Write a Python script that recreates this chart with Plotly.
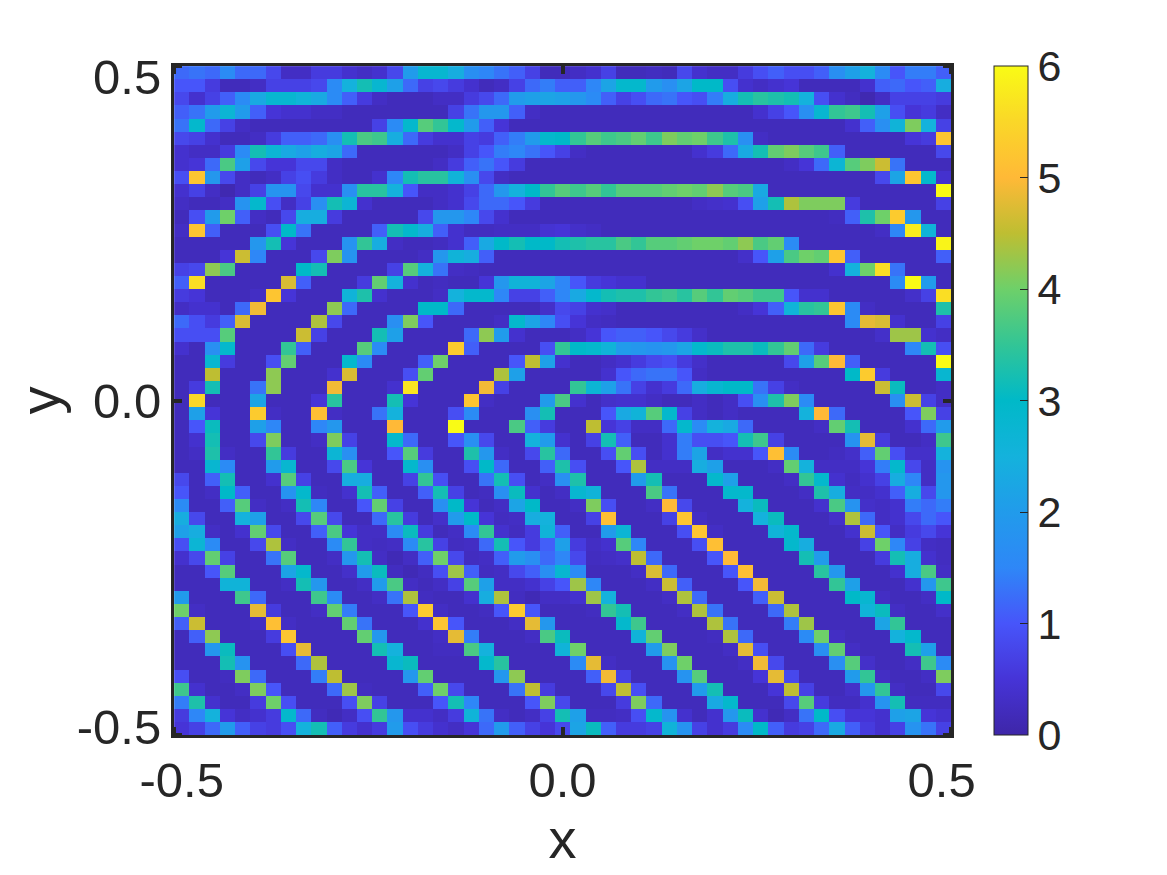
import plotly.graph_objects as go

# cell values, top row first, left to right
r00 = [1.2,1.3,1.2,1.6,1.2,1.2,.8,.3,.3,.6,.6,.4,.3,.4,.8,2.0,2.8, 2.8,2.4,1.7,1.5,1.3,1.1,.7,.2,.2,.3,.4,.7,.2,.2,.25,.2,.8, .4,.3,.3,.6,.9,1.1,.9,.9,1.1,1.7,2.1,2.5,1.6,1.0,1.4,1.4,1.1]
r01 = [1.0,1.0,.6,.2,.2,.3,.7,.7,.7,.8,1.6,2.5,3.2,2.8,2.1,1.2,.7, .8,.6,.4,.2,.3,.7,1.2,1.4,1.1,1.1,1.5,2.2,2.9,2.9,2.0,1.7,2.2, 3.0,3.0,.9,.4,.3,.4,.5,.2,.2,.2,.2,.4,1.1,1.2,1.0,1.1,2.4]
r02 = [.8,.4,.7,1.1,1.6,2.3,2.8,2.8,2.6,2.3,1.6,1.1,.6,.3,.2,.2,.2, .3,.3,.6,.8,1.2,2.0,2.1,2.2,2.1,1.9,1.6,1.1,.7,.9,1.2,1.3,1.0, .9,1.4,2.4,3.2,3.4,3.3,3.2,2.5,.9,.4,.25,.1,.3,.7,.7,.7,.6]
r03 = [1.1,1.3,2.0,2.7,2.0,1.1,.5,.4,.4,.3,.3,.2,.2,.2,.2,.2,.2, .2,.7,1.3,1.9,1.9,1.1,.3,.2,.2,.2,.2,.2,.2,.2,.2,.2,.2, .2,.2,.2,.2,.4,.7,1.0,1.7,2.8,3.5,3.6,3.2,2.1,.9,.5,.6,.3]
r04 = [1.3,2.9,1.2,.7,.3,.2,.2,.2,.2,.2,.2,.2,.2,.7,1.6,2.9,3.8, 3.5,2.9,2.0,1.1,.5,.2,.2,.2,.2,.2,.2,.2,.2,.2,.2,.2,.2, .2,.2,.2,.2,.2,.2,.2,.2,.2,.2,.4,1.1,1.7,2.6,4.1,2.5,.7]
r05 = [.8,.7,.4,.2,.2,.3,.6,1.1,1.1,1.2,1.7,3.2,3.7,3.6,2.4,1.2,.6, .4,.4,.7,.6,1.1,1.4,2.0,2.9,3.0,3.5,3.8,3.6,3.7,3.9,3.6,4.1,3.9, 4.0,3.6,3.3,1.7,.3,.2,.2,.2,.2,.2,.2,.2,.2,.2,.5,.6,5.2]
r06 = [.4,.3,.3,.6,1.6,3.2,2.7,2.3,2.1,2.4,2.2,1.2,.2,.2,.2,.2,.2, .2,.3,.7,1.0,1.4,1.5,1.3,1.0,.7,.3,.2,.2,.2,.2,.2,.2,.2, .4,.6,1.2,2.3,3.2,3.9,4.1,3.8,3.6,1.1,.2,.2,.2,.2,.2,.2,.8]
r07 = [.4,.5,1.2,3.7,2.1,.8,.5,.5,.8,.8,.3,.2,.2,.2,.2,.2,.2, .3,.6,1.1,1.3,1.0,.6,.2,.2,.2,.2,.2,.2,.2,.2,.2,.2,.2, .2,.2,.2,.2,.2,.2,.3,.5,1.2,2.7,3.8,4.1,4.6,1.3,.2,.2,.2]
r08 = [.9,5.2,1.9,.8,.3,.2,.3,.7,.9,.6,.3,.2,.2,.4,1.5,3.2,3.4, 3.4,2.6,1.7,.8,.3,.2,.2,.2,.2,.2,.2,.2,.2,.2,.2,.2,.2, .2,.2,.2,.2,.2,.2,.2,.2,.2,.2,.2,.2,.8,2.2,5.2,2.9,.4]
r09 = [.4,.7,.3,.1,.3,.7,1.8,1.8,.8,.4,.4,1.7,3.4,3.4,2.5,1.0,.3, .3,.4,.7,1.2,1.9,2.5,3.0,3.5,3.8,3.6,3.8,3.5,3.8,3.8,3.8,3.9,4.0, 3.9,4.2,3.8,3.7,2.3,.2,.2,.2,.2,.2,.2,.2,.2,.2,.2,.2,6.0]
r10 = [.3,.2,.2,.3,1.8,2.9,.9,.3,.7,1.7,3.2,2.7,.4,.2,.2,.2,.2, .3,.4,.8,1.2,1.2,1.0,.6,.2,.2,.2,.2,.2,.2,.2,.2,.2,.2, .3,.35,.4,.9,2.1,3.2,4.4,4.1,4.1,4.1,.6,.2,.2,.2,.2,.2,.7]
r11 = [.2,.9,2.0,4.0,1.1,.3,.2,.8,2.4,2.4,.6,.2,.2,.2,.2,.2,.8, 1.9,1.9,1.5,.8,.4,.2,.2,.2,.2,.2,.2,.2,.2,.2,.2,.2,.2, .2,.2,.2,.2,.2,.2,.2,.2,.2,.25,1.1,3.3,4.0,5.3,1.9,.2,.2]
r12 = [.3,5.2,1.1,.2,.2,.2,.9,3.0,1.3,.2,.2,.2,.2,1.1,3.2,2.9,2.4, 1.1,.4,.25,.25,.3,.3,.3,.45,.5,.35,.3,.2,.2,.2,.2,.2,.2, .2,.2,.2,.2,.2,.2,.2,.2,.2,.2,.2,.2,.3,1.5,5.8,2.6,.2]
r13 = [.2,.2,.2,.2,.2,1.9,3.2,.5,.2,.2,.2,1.8,3.5,2.4,.3,.2,.2, .25,.4,1.1,2.3,3.0,3.2,3.0,3.0,3.2,3.3,3.4,3.4,3.7,3.5,3.8,3.8,3.9, 4.0,4.0,3.9,4.2,3.7,3.9,1.6,.2,.2,.2,.2,.2,.2,.2,.2,.2,5.9]
r14 = [.2,.2,.2,.5,4.6,1.5,.2,.2,.2,.8,4.1,1.8,.2,.2,.2,.2,.3, 1.9,2.6,2.4,1.1,.2,.2,.2,.2,.2,.2,.2,.2,.2,.2,.2,.2,.2, .2,.2,.2,.35,1.0,2.1,3.7,4.0,3.9,5.2,1.1,.2,.2,.2,.2,.2,1.1]
r15 = [.7,.8,4.2,3.7,.2,.2,.2,.2,3.0,3.2,.2,.2,.2,.2,.7,3.8,2.5, 1.3,.3,.25,.2,.2,.2,.2,.2,.2,.2,.2,.2,.2,.2,.2,.2,.2, .2,.2,.2,.2,.2,.2,.2,.2,.2,.4,2.5,4.0,5.6,1.3,.2,.2,.2]
r16 = [1.1,5.6,.2,.2,.2,.2,.2,4.7,1.1,.2,.2,.2,.6,3.9,2.5,.4,.2, .25,.2,.2,.5,1.9,2.6,2.6,2.2,1.5,1.0,.6,.5,.4,.4,.2,.2,.2, .2,.2,.2,.2,.2,.2,.2,.2,.2,.2,.2,.2,.2,1.6,6.0,2.0,.2]
r17 = [.6,.5,.2,.2,.2,.3,5.2,.5,.2,.2,.2,2.6,3.3,.4,.2,.2,.2, .3,2.5,2.9,2.9,1.5,.7,.7,1.1,1.5,2.3,2.9,3.2,3.3,3.3,3.5,3.6,3.4, 3.8,3.5,3.9,3.8,3.6,3.6,1.0,.4,.4,.2,.2,.2,.2,.2,.35,.7,5.6]
r18 = [.3,.4,.4,.2,1.2,4.9,.2,.2,.2,.2,4.2,1.2,.2,.2,.2,.2,3.0, 3.0,1.2,.2,.2,.2,.2,.2,.35,.8,.7,.4,.35,.2,.2,.2,.2,.2, .2,.2,.2,.3,.5,1.1,2.6,3.4,3.5,5.2,1.6,.3,.2,.2,.2,.2,3.3]
r19 = [1.2,.9,.6,1.1,4.7,.2,.2,.2,.2,4.4,.8,.2,.2,.2,1.7,4.1,1.0, .2,.2,.2,.2,.3,2.9,2.2,1.5,.9,.5,.3,.25,.2,.2,.2,.2,.2, .2,.2,.2,.2,.2,.2,.2,.2,.2,.2,1.6,4.8,4.7,.4,.2,.2,.7]
r20 = [.9,.9,.9,3.8,.2,.2,.2,.2,4.6,.7,.2,.2,.2,3.2,2.1,.2,.2, .2,.2,1.2,4.2,2.0,.4,.2,.2,.2,.3,.5,1.0,1.1,1.1,1.0,.8,.6, .35,.2,.2,.2,.2,.2,.2,.2,.2,.2,.2,.2,.35,4.3,4.3,.4,.3]
r21 = [.4,.2,1.7,2.9,.2,.2,.2,3.5,1.1,.2,.2,.2,3.8,1.6,.2,.2,.2, .2,5.3,1.1,.2,.2,.2,.2,.9,3.5,3.0,2.9,2.6,2.0,1.9,1.8,1.9,2.2, 2.9,3.1,3.3,3.3,3.1,3.5,3.9,1.2,.6,.2,.2,.2,.2,.2,1.5,3.2,.9]
r22 = [.2,.2,2.8,.6,.2,.2,.9,3.9,.2,.2,.2,2.9,1.6,.2,.2,.2,1.1, 4.0,.2,.2,.2,.2,1.0,4.5,2.1,.4,.2,.2,.3,.4,.6,.8,.9,.6, .35,.2,.2,.2,.2,.2,.8,2.1,3.8,5.0,1.1,.2,.2,.2,.2,.2,6.0]
r23 = [.2,.2,4.5,.2,.2,.2,4.2,.2,.2,.2,.4,4.7,.2,.2,.2,.9,3.9, .2,.2,.2,.2,4.4,2.1,.2,.2,.2,.2,.2,.4,1.0,1.2,1.3,1.3,1.0, .3,.2,.2,.2,.2,.2,.2,.2,.2,.2,3.0,5.3,.6,.2,.2,.2,2.8]
r24 = [.2,.6,3.2,.2,.2,1.3,4.2,.2,.2,.2,4.9,.2,.2,.2,.4,5.7,.2, .2,.2,.2,4.9,.7,.2,.2,.2,.2,3.5,2.7,2.1,1.3,.7,.4,.6,1.2, 2.4,2.8,3.0,3.0,1.3,.7,.3,.2,.2,.2,.2,.2,4.6,3.1,.2,.2,.3]
r25 = [.2,5.5,.2,.2,.2,2.2,.2,.2,.2,.5,3.4,.2,.2,.2,3.2,.5,.2, .2,.2,5.2,.3,.2,.2,.2,2.0,3.7,.4,.2,.35,.4,.4,.3,.2,.2, .3,.2,.3,.9,1.7,3.3,4.1,1.6,.2,.2,.2,.2,.2,1.7,4.6,.7,.3]
r26 = [.2,2.1,.5,.2,.2,5.3,.3,.2,.2,5.1,.3,.2,.2,1.3,2.5,.2,.2, .2,.9,1.6,.2,.2,.2,1.7,3.2,.2,.2,.2,1.0,2.3,2.6,3.8,2.9,.7, .3,.2,.3,.2,.2,.2,.2,2.5,5.0,1.2,.2,.2,.2,.2,1.0,4.1,.7]
r27 = [.2,1.0,3.1,.2,.2,2.1,1.5,.2,.2,1.5,1.9,.2,.2,.2,5.0,.2,.2, .2,6.0,.2,.2,.2,3.7,1.1,.6,.2,.2,4.5,.5,.7,.3,.3,1.2,2.9, 1.6,2.5,2.3,1.2,.2,.2,.2,.2,.3,3.9,3.2,.2,.2,.2,.4,1.2,2.0]
r28 = [.2,.4,3.2,.2,.2,.8,4.1,.2,.2,.3,4.1,.7,.2,.2,2.9,1.2,.2, .2,1.0,1.7,.8,.2,.2,2.5,2.0,.4,.2,.7,3.2,1.1,.2,.2,.4,1.4, .9,.9,1.0,3.2,3.6,.7,.2,.2,.2,.2,1.8,4.8,.6,.2,.2,.3,3.6]
r29 = [.2,.3,3.3,.3,.2,.2,3.5,.6,.2,.2,2.7,1.7,.2,.2,1.0,3.8,.6, .2,.2,3.3,1.9,.3,.2,.8,3.4,1.2,.2,.2,.9,3.9,.9,.2,.4,1.4, 2.2,.3,.4,.4,1.0,5.1,1.6,.2,.2,.25,.35,1.1,3.9,.9,.35,.35,2.5]
r30 = [.2,.2,2.8,1.6,.2,.2,2.0,2.8,.2,.2,.8,3.7,.5,.2,.2,2.9,1.7, .2,.2,.9,3.0,1.2,.2,.2,1.1,3.3,.9,.2,.2,1.0,4.4,.3,.3,.3, 2.4,2.1,.2,.2,.2,.3,3.9,2.5,.3,.3,.3,.5,1.4,2.9,.8,.3,1.8]
r31 = [.8,.2,1.1,3.2,.2,.2,.4,3.8,.7,.2,.2,2.4,2.4,.2,.2,.7,3.5, .9,.2,.2,1.3,3.2,.9,.2,.3,1.7,3.3,.2,.2,.2,2.0,3.2,.2,.2, .2,2.9,2.1,.2,.2,.2,.3,3.5,2.9,.4,.25,.4,.7,2.4,1.5,.3,1.9]
r32 = [1.0,.2,.3,3.0,1.1,.2,.2,1.8,2.9,.25,.2,.4,3.2,1.1,.2,.2,1.1, 3.2,.7,.2,.25,1.7,3.1,.4,.2,.3,2.8,2.6,.2,.2,.2,3.7,1.3,.2, .2,.2,2.9,2.9,.2,.2,.2,.3,3.3,2.4,.3,.3,.4,1.1,2.4,.8,1.9]
r33 = [1.6,.2,.2,1.1,3.8,.3,.2,.3,3.2,1.5,.2,.2,1.0,3.9,.7,.2,.2, 1.7,3.0,.5,.2,.3,2.2,3.0,.2,.2,.3,4.1,.9,.2,.2,.3,5.0,.8, .2,.2,.2,2.5,3.1,.2,.2,.2,.4,3.7,1.8,.35,.3,.4,1.4,1.2,1.4]
r34 = [2.4,.8,.2,.2,2.5,2.1,.2,.2,.8,3.8,.8,.2,.2,1.2,3.4,.6,.2, .35,2.0,3.0,.5,.25,.3,2.4,2.5,.2,.2,.7,5.1,.2,.2,.2,.7,5.2, .3,.2,.2,.2,2.5,3.1,.2,.2,.2,.35,4.4,1.2,.3,.4,.8,1.2,1.0]
r35 = [2.1,2.4,.3,.2,.4,3.9,.8,.2,.2,1.1,3.7,.5,.3,.3,1.6,3.1,.6, .2,.3,1.6,3.5,.4,.25,.6,2.6,1.1,.2,.2,2.0,2.7,.2,.2,.2,.9, 5.2,.3,.2,.2,.2,2.6,2.9,.2,.2,.2,.4,4.6,1.0,.3,.6,.8,.5]
r36 = [.9,2.7,1.6,.2,.2,.8,4.4,.3,.2,.2,1.6,3.5,.3,.25,.3,1.6,3.4, .7,.25,.3,1.2,3.2,1.0,.6,1.1,2.1,.6,.3,.4,3.8,1.5,.2,.2,.2, .9,5.1,.2,.2,.2,.2,2.9,2.4,.2,.2,.2,.7,4.0,1.5,.7,.3,.25]
r37 = [.4,.8,3.9,.7,.2,.2,1.3,3.8,.2,.2,.3,1.9,3.2,.3,.15,.3,1.1, 4.0,.8,.25,.3,1.1,2.0,1.7,1.2,1.5,.8,.25,.3,.35,4.5,1.2,.2,.2, .2,1.0,5.0,.2,.2,.2,.2,3.2,2.0,.2,.2,.2,.6,3.2,2.4,.4,.25]
r38 = [.2,.2,1.0,3.8,.2,.2,.2,2.2,2.9,.2,.2,.35,2.0,3.1,.25,.15,.25, .9,4.3,1.1,.25,.3,.8,1.1,1.7,2.8,1.6,.2,.2,.2,.3,4.7,1.2,.2, .2,.2,1.0,5.1,.2,.2,.2,.2,3.4,1.9,.2,.2,.2,.4,2.4,3.7,.3]
r39 = [.2,.2,.2,2.6,2.6,.2,.2,.3,3.2,1.9,.2,.2,.3,2.0,3.7,.3,.2, .3,.7,3.8,2.1,.3,.3,.4,.7,1.0,4.3,1.5,.2,.2,.2,.3,4.6,1.1, .2,.2,.2,1.0,4.9,.2,.2,.2,.2,3.5,2.1,.2,.2,.2,.4,1.9,3.6]
r40 = [2.0,.2,.2,.2,3.6,1.2,.2,.2,.2,3.6,1.6,.2,.2,.3,1.3,4.4,.25, .2,.2,.4,2.4,4.4,.25,.15,.3,.3,.4,4.3,2.5,.2,.2,.2,.3,4.4, 1.2,.2,.2,.2,1.1,4.6,.2,.2,.2,.2,3.0,2.8,.3,.2,.2,.3,3.0]
r41 = [4.0,.3,.2,.2,.2,4.8,.6,.2,.2,.3,3.9,1.4,.2,.2,.2,1.0,5.3, .3,.2,.2,.25,1.0,5.3,1.0,.2,.2,.2,.25,3.5,3.2,.2,.2,.2,.3, 4.4,1.3,.2,.2,.2,1.2,4.4,.2,.2,.2,.2,2.6,3.1,.3,.2,.2,.35]
r42 = [1.1,4.6,.2,.2,.2,.3,5.1,.3,.2,.2,.2,3.9,1.3,.2,.2,.2,.4, 5.2,1.0,.2,.2,.2,.3,4.8,1.9,.2,.2,.2,.2,2.9,3.6,.2,.2,.2, .2,4.4,1.3,.2,.2,.2,1.4,4.3,.2,.2,.2,.2,2.2,3.5,.2,.2,.2]
r43 = [.2,1.1,4.2,.2,.2,.2,.6,5.2,.2,.2,.2,.2,3.9,1.9,.2,.2,.2, .3,4.8,1.4,.2,.2,.2,.3,3.7,3.1,.2,.2,.2,.2,2.6,3.9,.2,.2, .2,.25,4.4,1.2,.2,.2,.2,1.6,4.0,.3,.2,.2,.2,2.5,2.9,.2,.2]
r44 = [.2,.2,1.9,3.1,.2,.2,.2,.9,4.8,.2,.2,.2,.2,3.2,2.5,.2,.2, .25,.25,3.7,2.5,.2,.2,.2,.2,2.6,4.0,.2,.2,.2,.2,2.0,4.1,.2, .2,.2,.3,4.8,.9,.2,.2,.2,1.7,3.9,.3,.2,.2,.2,3.2,2.1,.2]
r45 = [.2,.2,.2,3.2,1.8,.2,.2,.2,1.2,4.4,.2,.2,.2,.2,2.8,3.1,.2, .2,.2,.2,2.9,3.4,.2,.2,.2,.2,1.6,4.8,.3,.2,.2,.2,1.8,4.0, .2,.2,.2,.3,4.9,.8,.2,.2,.2,1.7,3.8,.35,.2,.2,.3,3.6,1.6]
r46 = [.9,.2,.2,.25,4.1,1.2,.2,.2,.2,1.4,4.5,.2,.2,.2,.2,1.9,3.9, .2,.2,.2,.2,1.9,4.2,.2,.2,.2,.2,1.1,4.9,.7,.2,.2,.2,1.8, 3.8,.2,.2,.2,.5,4.8,.8,.2,.2,.2,2.0,3.5,.3,.2,.2,.3,4.1]
r47 = [3.6,.4,.2,.2,.3,4.1,1.0,.2,.2,.2,1.2,4.3,.25,.2,.2,.2,1.1, 4.0,.8,.2,.2,.2,1.3,4.5,.6,.2,.2,.2,.8,4.5,.9,.2,.2,.2, 2.0,3.2,.2,.2,.2,.5,4.5,.7,.2,.2,.35,1.9,3.5,.3,.2,.2,.8]
r48 = [1.4,3.3,.4,.2,.2,.6,4.0,.9,.2,.2,.2,.9,4.1,.7,.2,.2,.2, 1.0,3.2,1.5,.2,.2,.2,1.0,4.1,.8,.2,.2,.2,.6,4.1,1.2,.2,.2, .2,2.3,2.9,.2,.2,.2,.8,3.8,.6,.25,.25,.4,1.8,3.2,.25,.25,.25]
r49 = [.6,1.5,2.5,.5,.3,.4,.6,2.9,1.2,.25,.15,.3,.9,3.5,1.9,.4,.4, .3,.6,2.6,1.3,.3,.2,.3,.7,3.2,2.1,.25,.25,.3,.9,2.9,1.8,.4, .2,.4,1.9,3.1,.4,.15,.3,1.3,3.0,.9,.5,.5,.4,2.1,2.2,.5,.4]
r50 = [.5,.7,1.2,2.0,1.1,.7,.6,.9,2.5,3.2,1.1,.6,.4,.6,2.0,.9,.6, .4,.3,.5,1.2,2.0,1.1,.7,.5,.8,2.2,3.1,1.1,.6,.6,.7,2.6,1.8, .7,.4,.6,1.6,3.0,1.1,.6,.7,1.2,2.3,1.1,.6,.4,.7,1.8,1.3,.7]

z = [r00, r01, r02, r03, r04, r05, r06, r07, r08, r09,
     r10, r11, r12, r13, r14, r15, r16, r17, r18, r19,
     r20, r21, r22, r23, r24, r25, r26, r27, r28, r29,
     r30, r31, r32, r33, r34, r35, r36, r37, r38, r39,
     r40, r41, r42, r43, r44, r45, r46, r47, r48, r49, r50]

for i, r in enumerate(z):
    assert len(r) == 51, (i, len(r))

# parula, as the colorbar shows it
parula = [
    [0.0, "rgb(62,38,168)"], [0.083, "rgb(70,52,215)"], [0.167, "rgb(71,85,250)"],
    [0.25, "rgb(46,135,247)"], [0.333, "rgb(33,155,235)"], [0.417, "rgb(20,178,220)"],
    [0.5, "rgb(0,185,200)"], [0.583, "rgb(50,197,150)"], [0.667, "rgb(110,208,105)"],
    [0.75, "rgb(190,190,50)"], [0.833, "rgb(255,185,55)"], [0.917, "rgb(250,215,40)"],
    [1.0, "rgb(249,251,21)"],
]

ink = "#262626"
font = "Liberation Sans, Helvetica, Arial, sans-serif"

fig = go.Figure(go.Heatmap(
    z=z, x0=-0.49, dx=0.0196, y0=0.49, dy=-0.0196,
    zmin=0, zmax=6, colorscale=parula,
    colorbar=dict(
        x=1.055, xanchor="left", y=0.5, yanchor="middle",
        len=1.0, lenmode="fraction", thickness=34, thicknessmode="pixels",
        tickvals=[0, 1, 2, 3, 4, 5, 6], ticks="inside", ticklen=8, tickcolor=ink,
        tickfont=dict(family=font, size=43, color=ink),
        outlinecolor=ink, outlinewidth=1, xpad=0, ypad=0,
    ),
))

axis = dict(
    range=[-0.5, 0.5], showgrid=False, zeroline=False,
    showline=True, linecolor=ink, linewidth=3, mirror="ticks",
    ticks="", tickfont=dict(family=font, size=49, color=ink),
    tickmode="array", ticktext=["-0.5", "0.0", "0.5"],
    minor=dict(tickmode="array", tickvals=[-0.5, 0, 0.5], ticks="inside",
               ticklen=8, tickwidth=4, tickcolor=ink),
)

fig.update_xaxes(axis, tickvals=[-0.49, 0, 0.488], title=dict(text="x", font=dict(family=font, size=56, color=ink), standoff=12))
fig.update_yaxes(axis, tickvals=[-0.488, 0, 0.484], title=dict(text="y", font=dict(family=font, size=56, color=ink), standoff=6))

fig.update_layout(
    width=1167, height=875,
    margin=dict(l=166, r=224, t=58, b=148),
    paper_bgcolor="white", plot_bgcolor="white",
)

fig.write_html("out.html")
